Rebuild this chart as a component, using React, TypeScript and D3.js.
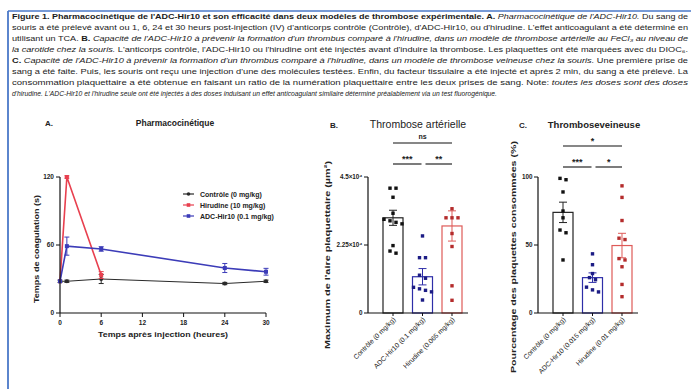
import React from "react";
import * as d3 from "d3";

const FONT = "'Liberation Sans', Arial, sans-serif";

// ---------- Panel A data ----------
const timeHours = [0, 1, 6, 24, 30];
const controlClot = [28, 28, 30, 26, 28];
const controlClotErr = [1, 1, 4, 1, 1];
const hirudinTimes = [0, 1, 6];
const hirudinClot = [28, 120, 33.5];
const hirudinClotErr = [0, 1, 3];
const adcClot = [28, 59, 56.5, 39.7, 36.4];
const adcClotErr = [0, 8, 2, 4, 3];
const xTicksA = [0, 6, 12, 18, 24, 30];
const yTicksA = [0, 60, 120];
const legendA = ["Contrôle (0 mg/kg)", "Hirudine (10 mg/kg)", "ADC-Hir10 (0.1 mg/kg)"];

// ---------- Panel B data ----------
const catsB = ["Contrôle (0 mg/kg)", "ADC-Hir10 (0.1 mg/kg)", "Hirudine (0.065 mg/kg)"];
const meansB = [3.15, 1.2, 2.88];
const semB = [0.25, 0.27, 0.5];
const ptsBControl = [4.13, 4.13, 3.83, 3.3, 3.1, 3.0, 3.05, 2.95, 2.23, 2.05, 1.98];
const ptsBAdc = [2.55, 1.83, 1.83, 1.25, 1.15, 0.85, 0.75, 0.8, 0.7, 0.43];
const ptsBHir = [3.45, 3.15, 3.15, 3.15, 2.63, 2.2, 0.9, 0.42];
const yTicksB = [0, 2.25, 4.5];
const yTickLabelsB = ["0", "2.25×10⁴", "4.5×10⁴"];
const sigB = [
  { from: 0, to: 2, label: "ns", level: 2 },
  { from: 0, to: 1, label: "***", level: 1 },
  { from: 1, to: 2, label: "**", level: 1 },
];

// ---------- Panel C data ----------
const catsC = ["Contrôle (0 mg/kg)", "ADC-Hir10 (0.015 mg/kg)", "Hirudine (0.01 mg/kg)"];
const meansC = [74, 26, 49.6];
const semC = [7.5, 3.5, 9];
const ptsCControl = [98, 99, 89, 75, 70, 61, 59, 39];
const ptsCAdc = [43.5, 35.5, 29, 26, 24.5, 19, 17, 15.5];
const ptsCHir = [93.5, 85, 68, 55, 54, 40, 39, 34, 21, 12];
const yTicksC = [0, 50, 100];
const yTickLabelsC = ["0", "50", "100"];
const sigC = [
  { from: 0, to: 2, label: "*", level: 2 },
  { from: 0, to: 1, label: "***", level: 1 },
  { from: 1, to: 2, label: "*", level: 1 },
];

const BAR_STROKES = ["#222", "#2e2ea8", "#de5a58"];
const PT_COLORS = ["#111", "#1c1c85", "#b42c2c"];

// ---------- Caption ----------
type Seg = [string, string];
const captionLines: Seg[][] = [
  [
    ["Figure 1. Pharmacocinétique de l'ADC-Hir10 et son efficacité dans deux modèles de thrombose expérimentale.", "b"],
    [" A. ", "b"],
    ["Pharmacocinétique de l'ADC-Hir10.", "i"],
    [" Du sang de", "r"],
  ],
  [["souris a été prélevé avant ou 1, 6, 24 et 30 heurs post-injection (IV) d'anticorps contrôle (Contrôle), d'ADC-Hir10, ou d'hirudine. L'effet anticoagulant a été déterminé en", "r"]],
  [
    ["utilisant un TCA. ", "r"],
    ["B.", "b"],
    [" Capacité de l'ADC-Hir10 à prévenir la formation d'un thrombus comparé à l'hirudine, dans un modèle de thrombose artérielle au FeCl₃ au niveau de", "i"],
  ],
  [
    ["la carotide chez la souris.", "i"],
    [" L'anticorps contrôle, l'ADC-Hir10 ou l'hirudine ont été injectés avant d'induire la thrombose. Les plaquettes ont été marquées avec du DIOC₆.", "r"],
  ],
  [
    ["C.", "b"],
    [" Capacité de l'ADC-Hir10 à prévenir la formation d'un thrombus comparé à l'hirudine,  dans un modèle de thrombose veineuse chez la souris.", "i"],
    [" Une première prise de", "r"],
  ],
  [["sang a été faite. Puis, les souris ont reçu une injection d'une des molécules testées. Enfin, du facteur tissulaire a été injecté et après 2 min, du sang a été prélevé. La", "r"]],
  [
    ["consommation plaquettaire a été obtenue en faisant un ratio de la numération plaquettaire entre les deux prises de sang. Note: ", "r"],
    ["toutes les doses sont des doses", "i"],
  ],
  [["d'hirudine. L'ADC-Hir10 et l'hirudine seule ont été injectés à des doses induisant un effet anticoagulant similaire déterminé préalablement via un test fluorogénique.", "i"]],
];

function dodge(vals: number[], y: (v: number) => number, gap = 3.5, sp = 6) {
  const idx = vals.map((v, i) => i).sort((a, b) => vals[b] - vals[a]);
  const off = new Array(vals.length).fill(0);
  let cluster: number[] = [];
  const flush = () => {
    const n = cluster.length;
    cluster.forEach((k, j) => (off[k] = (j - (n - 1) / 2) * sp));
    cluster = [];
  };
  idx.forEach((k) => {
    if (cluster.length && Math.abs(y(vals[k]) - y(vals[cluster[cluster.length - 1]])) > gap) flush();
    cluster.push(k);
  });
  flush();
  return off;
}

function PanelA() {
  const x = d3.scaleLinear().domain([0, 30]).range([60, 266]);
  const y = d3.scaleLinear().domain([0, 120]).range([313, 177]);
  const line = d3.line<[number, number]>().x((d) => x(d[0])).y((d) => y(d[1]));
  const series = [
    { t: timeHours, v: controlClot, e: controlClotErr, c: "#2a2a2a", w: 1, m: "circle" },
    { t: hirudinTimes, v: hirudinClot, e: hirudinClotErr, c: "#e8404f", w: 1.6, m: "square" },
    { t: timeHours, v: adcClot, e: adcClotErr, c: "#3c3cb8", w: 1.6, m: "square" },
  ];
  const legendColors = [series[0].c, series[1].c, series[2].c];
  return (
    <g fontFamily={FONT}>
      <text x={45} y={126} fontSize={8} fontWeight="bold" fill="#222">A.</text>
      <text x={175} y={126} fontSize={8.5} fontWeight="bold" textAnchor="middle" fill="#222">Pharmacocinétique</text>
      {series.map((s, si) => (
        <g key={si}>
          <path d={line(s.t.map((t, i) => [t, s.v[i]]) as any) || ""} fill="none" stroke={s.c} strokeWidth={s.w} />
          {s.t.map((t, i) => (
            <g key={i} stroke={s.c} strokeWidth={1}>
              {s.e[i] > 0 && (
                <>
                  <line x1={x(t)} x2={x(t)} y1={y(s.v[i] - s.e[i])} y2={y(s.v[i] + s.e[i])} />
                  <line x1={x(t) - 2.5} x2={x(t) + 2.5} y1={y(s.v[i] + s.e[i])} y2={y(s.v[i] + s.e[i])} />
                  <line x1={x(t) - 2.5} x2={x(t) + 2.5} y1={y(s.v[i] - s.e[i])} y2={y(s.v[i] - s.e[i])} />
                </>
              )}
              {s.m === "circle" ? (
                <circle cx={x(t)} cy={y(s.v[i])} r={2} fill={s.c} stroke="none" />
              ) : (
                <rect x={x(t) - 2} y={y(s.v[i]) - 2} width={4} height={4} fill={s.c} stroke="none" />
              )}
            </g>
          ))}
        </g>
      ))}
      {/* axes */}
      <line x1={60} x2={60} y1={y(120)} y2={y(0)} stroke="#111" strokeWidth={1.2} />
      <line x1={60} x2={x(30)} y1={y(0)} y2={y(0)} stroke="#111" strokeWidth={1.2} />
      {yTicksA.map((t) => (
        <g key={t}>
          <line x1={56} x2={60} y1={y(t)} y2={y(t)} stroke="#111" strokeWidth={1} />
          <text x={54} y={y(t) + 2.3} fontSize={6.5} fontWeight="bold" textAnchor="end" fill="#222">{t}</text>
        </g>
      ))}
      {xTicksA.map((t) => (
        <g key={t}>
          <line x1={x(t)} x2={x(t)} y1={y(0)} y2={y(0) + 4} stroke="#111" strokeWidth={1} />
          <text x={x(t)} y={y(0) + 12} fontSize={6.5} fontWeight="bold" textAnchor="middle" fill="#222">{t}</text>
        </g>
      ))}
      <text x={163} y={337} fontSize={7.5} fontWeight="bold" textAnchor="middle" fill="#222" textLength={130} lengthAdjust="spacingAndGlyphs">
        Temps après injection (heures)
      </text>
      <text transform="translate(39,249) rotate(-90)" fontSize={8} fontWeight="bold" textAnchor="middle" fill="#222" textLength={108} lengthAdjust="spacingAndGlyphs">
        Temps de coagulation (s)
      </text>
      {legendA.map((l, i) => (
        <g key={l} transform={`translate(183,${194 + i * 11})`}>
          <line x1={0} x2={11} y1={0} y2={0} stroke={legendColors[i]} strokeWidth={1.2} />
          {i === 0 ? (
            <circle cx={5.5} cy={0} r={1.8} fill={legendColors[i]} />
          ) : (
            <rect x={3.7} y={-1.8} width={3.6} height={3.6} fill={legendColors[i]} />
          )}
          <text x={17} y={2.5} fontSize={7} fontWeight="bold" fill="#222">{l}</text>
        </g>
      ))}
    </g>
  );
}

type BarProps = {
  axisX: number;
  cats: string[];
  means: number[];
  sems: number[];
  points: number[][];
  yMax: number;
  yTicks: number[];
  yTickLabels: string[];
  sig: { from: number; to: number; label: string; level: number }[];
  sigY: [number, number];
  title: string;
  titleBold: boolean;
  titleX: number;
  titleSize: number;
  letter: string;
  letterX: number;
  yTitle: string;
  yTitleX: number;
  yTitleY: number;
  yTitleLen: number;
};

function BarPanel(p: BarProps) {
  const y = d3.scaleLinear().domain([0, p.yMax]).range([313, 177]);
  const start = p.axisX + 15;
  const x = d3.scaleBand().domain(p.cats).range([start, start + 79]).paddingInner(0.322).paddingOuter(0);
  const bw = x.bandwidth();
  const c = (i: number) => (x(p.cats[i]) as number) + bw / 2;
  return (
    <g fontFamily={FONT}>
      <text x={p.letterX} y={128} fontSize={8} fontWeight="bold" fill="#222">{p.letter}</text>
      <text x={p.titleX} y={128} fontSize={p.titleSize} fontWeight={p.titleBold ? "bold" : "normal"} textAnchor="middle" fill="#222">
        {p.title}
      </text>
      {p.cats.map((cat, i) => {
        const m = p.means[i];
        const s = p.sems[i];
        const offs = dodge(p.points[i], y);
        return (
          <g key={cat}>
            <rect x={x(cat)} y={y(m)} width={bw} height={y(0) - y(m)} fill="#fff" stroke={BAR_STROKES[i]} strokeWidth={1.2} />
            <g stroke={BAR_STROKES[i]} strokeWidth={1}>
              <line x1={c(i)} x2={c(i)} y1={y(m - s)} y2={y(m + s)} />
              <line x1={c(i) - 4} x2={c(i) + 4} y1={y(m + s)} y2={y(m + s)} />
              <line x1={c(i) - 4} x2={c(i) + 4} y1={y(m - s)} y2={y(m - s)} />
            </g>
            {p.points[i].map((v, k) => (
              <rect key={k} x={c(i) + offs[k] - 1.7} y={y(v) - 1.7} width={3.4} height={3.4} fill={PT_COLORS[i]} />
            ))}
            <line x1={c(i)} x2={c(i)} y1={313} y2={316} stroke="#111" strokeWidth={1} />
            <text transform={`translate(${c(i) + 3},${320}) rotate(-45)`} fontSize={6.8} textAnchor="end" fill="#222">
              {cat}
            </text>
          </g>
        );
      })}
      <line x1={p.axisX} x2={p.axisX} y1={y(p.yMax)} y2={313} stroke="#111" strokeWidth={1.2} />
      <line x1={p.axisX} x2={start + 79 + 6} y1={313} y2={313} stroke="#111" strokeWidth={1.2} />
      {p.yTicks.map((t, i) => (
        <g key={t}>
          <line x1={p.axisX - 4} x2={p.axisX} y1={y(t)} y2={y(t)} stroke="#111" strokeWidth={1} />
          <text x={p.axisX - 5.5} y={y(t) + 2.3} fontSize={6.3} fontWeight="bold" textAnchor="end" fill="#222">
            {p.yTickLabels[i]}
          </text>
        </g>
      ))}
      <text transform={`translate(${p.yTitleX},${p.yTitleY}) rotate(-90)`} fontSize={8} fontWeight="bold" textAnchor="middle" fill="#222" textLength={p.yTitleLen} lengthAdjust="spacingAndGlyphs">
        {p.yTitle}
      </text>
      {p.sig.map((s, i) => {
        const ly = s.level === 2 ? p.sigY[1] : p.sigY[0];
        const x1 = s.level === 2 ? c(s.from) : c(s.from) + (s.from > 0 ? 3 : 0);
        const x2 = s.level === 2 ? c(s.to) : c(s.to) - (s.to === 1 ? 1 : 0);
        const isStar = s.label.includes("*");
        return (
          <g key={i}>
            <line x1={x1} x2={x2} y1={ly} y2={ly} stroke="#111" strokeWidth={1.1} />
            <text x={(x1 + x2) / 2} y={isStar ? ly - 2 : ly - 4} fontSize={isStar ? 9 : 7} fontWeight="bold" textAnchor="middle" fill="#222">
              {s.label}
            </text>
          </g>
        );
      })}
    </g>
  );
}

export default function App() {
  const lineH = 11.1;
  return (
    <svg width={691} height={389} style={{ position: "absolute", left: 0, top: 0, background: "#fff" }}>
      <rect x={0} y={0} width={691} height={389} fill="#fff" />
      <line x1={8} x2={691} y1={11} y2={11} stroke="#4a78c8" strokeWidth={1.5} />
      <line x1={8} x2={8} y1={11} y2={389} stroke="#4a78c8" strokeWidth={1.8} />
      <g fontFamily={FONT} fontSize={7.6} fill="#1a1a1a">
        {captionLines.map((segs, li) => (
          <text
            key={li}
            x={12}
            y={18.5 + li * lineH}
            textLength={li === captionLines.length - 1 ? 485 : 676}
            lengthAdjust="spacingAndGlyphs"
          >
            {segs.map(([t, st], k) => (
              <tspan key={k} fontWeight={st === "b" ? "bold" : "normal"} fontStyle={st === "i" ? "italic" : "normal"}>
                {t}
              </tspan>
            ))}
          </text>
        ))}
      </g>
      <PanelA />
      <BarPanel
        axisX={368}
        cats={catsB}
        means={meansB}
        sems={semB}
        points={[ptsBControl, ptsBAdc, ptsBHir]}
        yMax={4.5}
        yTicks={yTicksB}
        yTickLabels={yTickLabelsB}
        sig={sigB}
        sigY={[164, 143]}
        title="Thrombose artérielle"
        titleBold={false}
        titleX={418}
        titleSize={10.5}
        letter="B."
        letterX={330}
        yTitle="Maximum de l'aire plaquettaire (µm²)"
        yTitleX={330}
        yTitleY={255}
        yTitleLen={188}
      />
      <BarPanel
        axisX={538}
        cats={catsC}
        means={meansC}
        sems={semC}
        points={[ptsCControl, ptsCAdc, ptsCHir]}
        yMax={100}
        yTicks={yTicksC}
        yTickLabels={yTickLabelsC}
        sig={sigC}
        sigY={[167, 146]}
        title="Thromboseveineuse"
        titleBold={true}
        titleX={594}
        titleSize={9.5}
        letter="C."
        letterX={519}
        yTitle="Pourcentage des plaquettes consommées (%)"
        yTitleX={516}
        yTitleY={257}
        yTitleLen={232}
      />
    </svg>
  );
}
